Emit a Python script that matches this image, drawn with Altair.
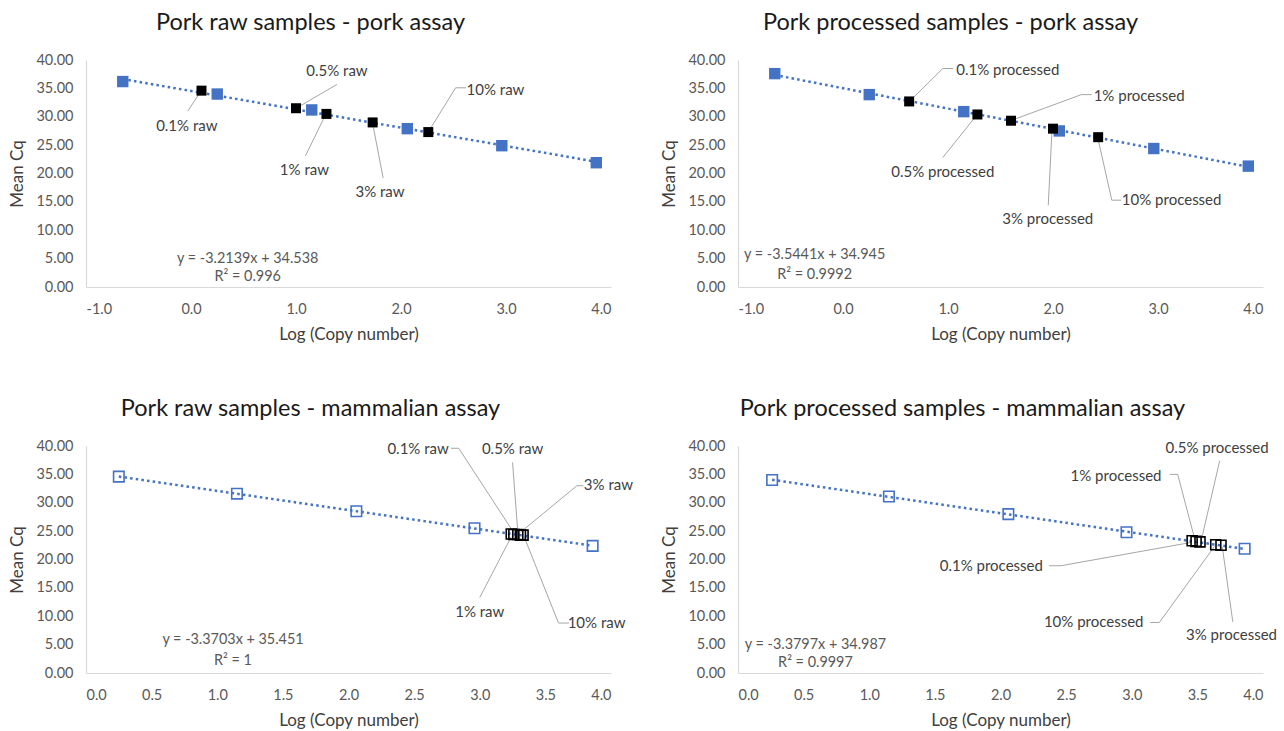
import altair as alt
import pandas as pd

BLUE = "#4472C4"
FONT = "Lato"
GRAY_LINE = "#a6a6a6"

# ---------------- data ----------------
titles = [
    "Pork raw samples - pork assay",
    "Pork processed samples - pork assay",
    "Pork raw samples - mammalian assay",
    "Pork processed samples - mammalian assay",
]

# standards (blue)
std_x = [
    [-0.65, 0.25, 1.15, 2.06, 2.96, 3.86],
    [-0.65, 0.25, 1.15, 2.06, 2.96, 3.86],
    [0.25, 1.15, 2.06, 2.96, 3.86],
    [0.26, 1.15, 2.06, 2.96, 3.86],
]
std_y = [
    [36.2, 34.0, 31.2, 27.9, 24.9, 21.9],
    [37.6, 33.9, 30.9, 27.5, 24.4, 21.3],
    [34.6, 31.6, 28.5, 25.5, 22.4],
    [34.0, 31.1, 28.0, 24.8, 21.9],
]

# samples (black)
raw_names = ["0.1% raw", "0.5% raw", "1% raw", "3% raw", "10% raw"]
proc_names = ["0.1% processed", "0.5% processed", "1% processed", "3% processed", "10% processed"]
sample_names = [raw_names, proc_names, raw_names, proc_names]
sample_x = [
    [0.10, 1.00, 1.29, 1.73, 2.26],
    [0.63, 1.28, 1.60, 2.00, 2.43],
    [3.26, 3.29, 3.24, 3.31, 3.33],
    [3.46, 3.52, 3.49, 3.68, 3.64],
]
sample_y = [
    [34.6, 31.5, 30.5, 29.0, 27.3],
    [32.7, 30.4, 29.3, 27.9, 26.4],
    [24.4, 24.4, 24.5, 24.3, 24.3],
    [23.3, 23.1, 23.2, 22.5, 22.6],
]

# data label anchors (data units)
label_x = [
    [-0.04, 1.39, 1.08, 1.80, 2.90],
    [1.57, 0.95, 2.82, 1.95, 3.13],
    [2.53, 3.25, 3.00, 3.98, 3.89],
    [1.93, 3.65, 2.88, 3.76, 2.71],
]
label_y = [
    [28.3, 38.0, 20.7, 16.7, 34.8],
    [38.3, 20.3, 33.7, 12.0, 15.3],
    [39.5, 39.4, 10.8, 33.1, 8.8],
    [18.9, 39.6, 34.8, 6.7, 9.0],
]

# leader lines (data units, from label side to point)
leader_x = [
    [[-0.03, 0.09], [1.39, 1.02], [1.09, 1.28], [1.83, 1.73], [2.62, 2.52, 2.27]],
    [[1.05, 0.95, 0.65], [0.95, 1.27], [2.37, 2.27, 1.61], [1.955, 1.99], [2.65, 2.56, 2.43]],
    [[2.78, 2.84, 3.26], [3.25, 3.29], [3.00, 3.24], [3.79, 3.74, 3.31], [3.68, 3.60, 3.34]],
    [[2.37, 2.46, 3.45], [3.67, 3.53], [3.29, 3.35, 3.48], [3.77, 3.69], [3.14, 3.21, 3.63]],
]
leader_y = [
    [[31.0, 34.4], [35.7, 31.7], [23.1, 30.3], [19.2, 28.8], [35.1, 35.1, 27.6]],
    [[38.5, 38.5, 33.0], [22.8, 30.2], [33.9, 33.9, 29.4], [14.4, 27.5], [15.3, 15.3, 26.0]],
    [[39.6, 39.6, 24.7], [37.1, 24.8], [13.3, 24.0], [33.0, 33.0, 24.8], [8.8, 8.8, 23.9]],
    [[18.9, 18.9, 23.0], [37.4, 23.4], [35.0, 35.0, 23.6], [9.0, 22.2], [8.9, 8.9, 22.3]],
]

# trendline equations
eq_text = [
    "y = -3.2139x + 34.538",
    "y = -3.5441x + 34.945",
    "y = -3.3703x + 35.451",
    "y = -3.3797x + 34.987",
]
r2_text = ["R\u00b2 = 0.996", "R\u00b2 = 0.9992", "R\u00b2 = 1", "R\u00b2 = 0.9997"]
eq_x = [0.54, -0.27, 1.12, 0.59]
eq_y = [4.9, 5.6, 5.8, 5.0]
r2_y = [1.8, 2.2, 2.2, 1.8]

x_domains = [[-1, 4], [-1, 4], [0, 4], [0, 4]]
x_ticks_top = [-1, 0, 1, 2, 3, 4]
x_ticks_bottom = [0, 0.5, 1, 1.5, 2, 2.5, 3, 3.5, 4]
x_ticks = [x_ticks_top, x_ticks_top, x_ticks_bottom, x_ticks_bottom]
y_ticks = [0, 5, 10, 15, 20, 25, 30, 35, 40]
open_markers = [False, False, True, True]
title_dx = [-38, -50, -38, -38]

W, H = 525, 227


def panel(i):
    xs = alt.Scale(domain=x_domains[i], nice=False, zero=False)
    ys = alt.Scale(domain=[0, 40], nice=False, zero=False)
    xax = alt.Axis(
        values=x_ticks[i], title="Log (Copy number)",
        labelExpr="datum.value < 0 ? '-' + format(-datum.value, '.1f') : format(datum.value, '.1f')",
    )
    yax = alt.Axis(values=y_ticks, format=".2f", title="Mean Cq")
    X = alt.X("x:Q", scale=xs, axis=xax)
    Y = alt.Y("y:Q", scale=ys, axis=yax)

    std = pd.DataFrame({"x": std_x[i], "y": std_y[i]})
    smp = pd.DataFrame({"x": sample_x[i], "y": sample_y[i], "name": sample_names[i]})
    lab = pd.DataFrame({"x": label_x[i], "y": label_y[i], "name": sample_names[i]})
    rows = []
    for name, lxs, lys in zip(sample_names[i], leader_x[i], leader_y[i]):
        for k, (a, b) in enumerate(zip(lxs, lys)):
            rows.append({"name": name, "k": k, "x": a, "y": b})
    lead = pd.DataFrame(rows)
    eqdf = pd.DataFrame({"x": [eq_x[i], eq_x[i]], "y": [eq_y[i], r2_y[i]],
                         "t": [eq_text[i], r2_text[i]]})

    trend = alt.Chart(std).transform_regression("x", "y").mark_line(
        color=BLUE, strokeWidth=2.5, strokeDash=[2.5, 3.2]
    ).encode(x=X, y=Y)

    if open_markers[i]:
        stdm = alt.Chart(std).mark_square(size=110, filled=False, color=BLUE,
                                          strokeWidth=1.6, opacity=1)
        smpm = alt.Chart(smp).mark_square(size=100, filled=False, color="black",
                                          strokeWidth=1.6, opacity=1)
    else:
        stdm = alt.Chart(std).mark_square(size=130, filled=True, color=BLUE, opacity=1)
        smpm = alt.Chart(smp).mark_square(size=100, filled=True, color="black", opacity=1)
    stdm = stdm.encode(x=X, y=Y)
    smpm = smpm.encode(x=X, y=Y)

    leaders = alt.Chart(lead).mark_line(color=GRAY_LINE, strokeWidth=1).encode(
        x=X, y=Y, detail="name:N", order="k:Q")

    labels = alt.Chart(lab).mark_text(font=FONT, fontSize=15, color="#404040",
                                      align="center", baseline="middle").encode(
        x=X, y=Y, text="name:N")

    eqs = alt.Chart(eqdf).mark_text(font=FONT, fontSize=14.4, color="#595959",
                                    align="center", baseline="middle").encode(
        x=X, y=Y, text="t:N")

    return alt.layer(trend, stdm, leaders, smpm, labels, eqs).properties(
        width=W, height=H,
        title=alt.TitleParams(titles[i], fontSize=23.5, font=FONT, fontWeight="normal",
                              color="#1a1a1a", anchor="middle", offset=18, dx=title_dx[i]),
    )


chart = alt.concat(
    panel(0), panel(1), panel(2), panel(3),
    columns=2, spacing={"row": 159, "column": 127}, bounds="flush",
).properties(
    padding={"left": 8, "top": 10, "right": 5, "bottom": 5},
    background="white",
).configure_view(stroke=None).configure_axis(
    grid=False, ticks=False, domainColor="#d9d9d9", domainWidth=1.2,
    labelColor="#595959", labelFontSize=14.5, labelFont=FONT, labelOverlap=False,
    titleColor="#404040", titleFontSize=17, titleFont=FONT, titleFontWeight="normal",
).configure_axisY(labelPadding=13, titlePadding=9).configure_axisX(labelPadding=15, titlePadding=11)

chart.save("out.html", embed_options={"renderer": "svg", "actions": False})
